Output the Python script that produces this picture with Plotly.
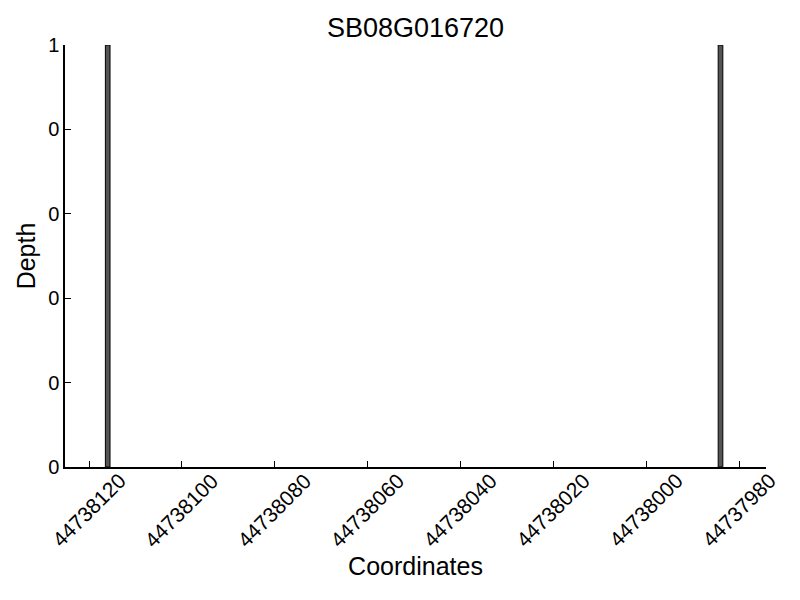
import plotly.graph_objects as go

positions = [44738116, 44737984]
depths = [1, 1]
x_ticks = [44738120, 44738100, 44738080, 44738060, 44738040, 44738020, 44738000, 44737980]
y_ticks = [0, 0.2, 0.4, 0.6, 0.8, 1.0]
y_tick_labels = ["0", "0", "0", "0", "0", "1"]

fig = go.Figure(go.Bar(
    x=positions, y=depths, width=1,
    marker=dict(color="#555555", line=dict(color="black", width=1)),
))

font = "Liberation Sans, Arial, sans-serif"
W, H = 792, 592
fig.update_layout(
    width=W, height=H,
    margin=dict(l=57, r=34, t=37, b=133),
    plot_bgcolor="white", paper_bgcolor="white",
    font=dict(family=font, color="black"),
    title=dict(text="SB08G016720", x=0.5, xref="paper", xanchor="center",
               y=1 - 20 / H, yref="container", yanchor="middle",
               font=dict(size=27)),
    showlegend=False,
)
fig.update_xaxes(
    range=[44738125.2, 44737974.2], tickvals=x_ticks, showticklabels=False,
    ticks="inside", ticklen=6, tickcolor="black",
    showline=True, linecolor="black", linewidth=1.5, showgrid=False, zeroline=False,
    automargin=False,
    title=dict(text="Coordinates", font=dict(size=25), standoff=90),
)
fig.update_yaxes(
    range=[0, 1], tickvals=y_ticks, ticktext=y_tick_labels,
    ticks="inside", ticklen=6, tickcolor="black",
    showline=True, linecolor="black", linewidth=1.5, showgrid=False, zeroline=False,
    tickfont=dict(size=20), automargin=False,
    title=dict(text="Depth", font=dict(size=25), standoff=5),
)
for v in x_ticks:
    fig.add_annotation(
        x=v, xref="x", y=0, yref="paper", text=str(v), textangle=-45,
        showarrow=False, xanchor="center", yanchor="middle", yshift=-43, xshift=-1,
        font=dict(size=21, family=font, color="black"),
    )
fig.write_html("out.html")
